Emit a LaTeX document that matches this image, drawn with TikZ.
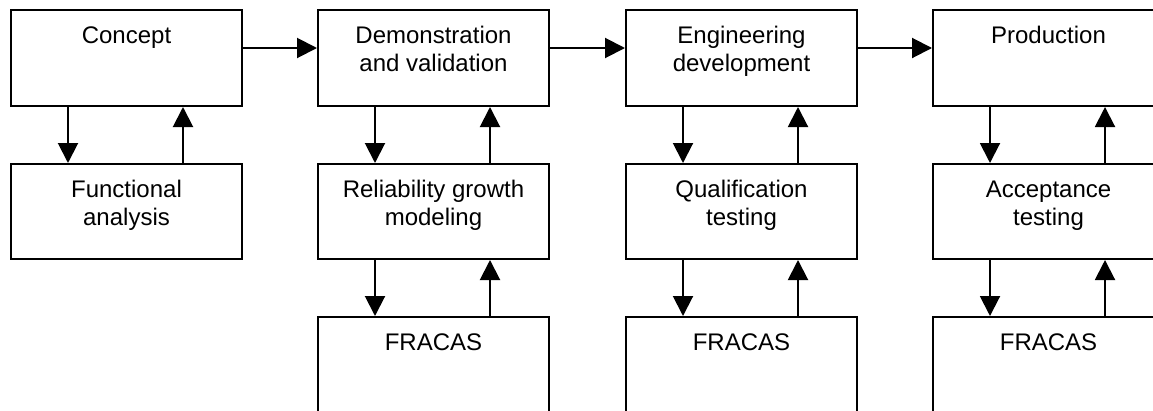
\documentclass[tikz,border=0pt]{standalone}
\usepackage{fontspec}
\setmainfont{Liberation Sans}
\usetikzlibrary{arrows.meta,calc}

% Box contents: top-aligned, centred lines, first baseline 33pt below the top edge
\newcommand{\stagetext}[2]{\parbox[c][#1][t]{231pt}{\centering\fontsize{24}{28}\selectfont\rule{0pt}{33pt}#2}}

\tikzset{
  stage/.style={draw, line width=2pt, inner sep=0pt, anchor=north west},
  flow/.style={line width=2pt, -{Triangle[length=20pt,width=20pt]}}
}

\begin{document}
\begin{tikzpicture}[x=1pt,y=1pt]
\useasboundingbox (0,0) rectangle (1153,-410);
\clip (0,0) rectangle (1153,-410);

% phase boxes
\node[stage] (c1) at (10,-9)  {\stagetext{96pt}{Concept}};
\node[stage] (c2) at (317,-9) {\stagetext{96pt}{Demonstration\\and validation}};
\node[stage] (c3) at (625,-9) {\stagetext{96pt}{Engineering\\development}};
\node[stage] (c4) at (932,-9) {\stagetext{96pt}{Production}};

% activity boxes
\node[stage] (m1) at (10,-163)  {\stagetext{95pt}{Functional\\analysis}};
\node[stage] (m2) at (317,-163) {\stagetext{95pt}{Reliability growth\\modeling}};
\node[stage] (m3) at (625,-163) {\stagetext{95pt}{Qualification\\testing}};
\node[stage] (m4) at (932,-163) {\stagetext{95pt}{Acceptance\\testing}};

% FRACAS boxes
\node[stage] (b2) at (317,-316) {\stagetext{110pt}{FRACAS}};
\node[stage] (b3) at (625,-316) {\stagetext{110pt}{FRACAS}};
\node[stage] (b4) at (932,-316) {\stagetext{110pt}{FRACAS}};

% phase sequence
\draw[flow] ($(c1.north east)+(0,-39)$) -- ($(c2.north west)+(0,-39)$);
\draw[flow] ($(c2.north east)+(0,-39)$) -- ($(c3.north west)+(0,-39)$);
\draw[flow] ($(c3.north east)+(0,-39)$) -- ($(c4.north west)+(0,-39)$);

% feedback loops between phases and activities
\foreach \u/\l in {c1/m1, c2/m2, c3/m3, c4/m4, m2/b2, m3/b3, m4/b4} {
  \draw[flow] ($(\u.south west)+(58,0)$) -- ($(\l.north west)+(58,0)$);
  \draw[flow] ($(\l.north west)+(173,0)$) -- ($(\u.south west)+(173,0)$);
}
\end{tikzpicture}
\end{document}
